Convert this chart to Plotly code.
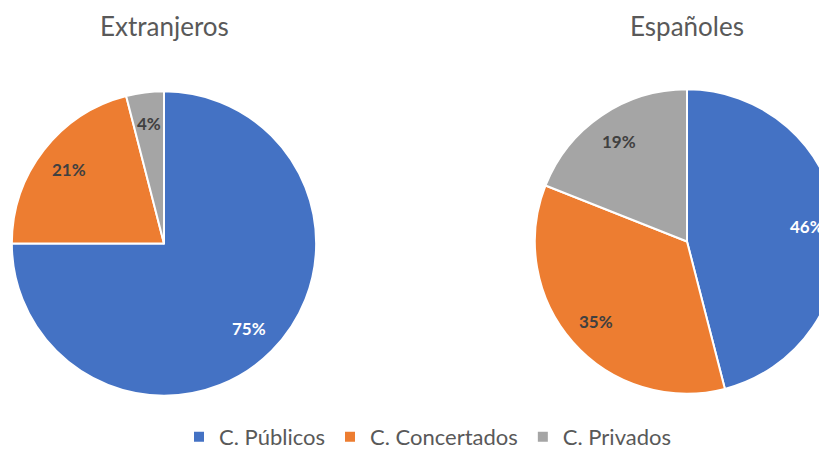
import math
import plotly.graph_objects as go

categories = ["C. Públicos", "C. Concertados", "C. Privados"]
extranjeros = [75, 21, 4]
espanoles = [46, 35, 19]
titles = ["Extranjeros", "Españoles"]

colors = ["#4472C4", "#ED7D31", "#A5A5A5"]
text_colors = ["#FFFFFF", "#404040", "#404040"]

W, H = 835, 450
OFF = 8  # page offset of the plot div

def px(x):
    return (x - OFF) / W

def py(y):
    return (H - (y - OFF)) / H

# pie geometry in screen pixels: center x, center y, visible radius
pies = [(164, 244, 151), (687, 242, 151)]
SHRINK = 1.5

fig = go.Figure()
for vals, (cx, cy, r) in zip([extranjeros, espanoles], pies):
    half = r + SHRINK
    fig.add_trace(go.Pie(
        labels=categories, values=vals, sort=False, direction="clockwise",
        rotation=0,
        domain=dict(x=[max(0.0, px(cx - half)), min(1.0, px(cx + half))],
                    y=[py(cy + half), py(cy - half)]),
        marker=dict(colors=colors, line=dict(color="white", width=2)),
        textinfo="none", hoverinfo="label+value", showlegend=True,
    ))
    total = sum(vals)
    cum = 0
    for v, tc in zip(vals, text_colors):
        mid = (cum + v / 2) / total * 2 * math.pi
        cum += v
        lx = cx + 0.80 * r * math.sin(mid)
        ly = cy - 0.80 * r * math.cos(mid)
        fig.add_annotation(text=f"{v}%", x=px(lx), y=py(ly), xref="paper", yref="paper",
                           xanchor="center", yanchor="middle", showarrow=False,
                           font=dict(family="Lato", size=17, color=tc, weight="bold"))

for t, xc in zip(titles, [164, 687]):
    fig.add_annotation(text=t, x=px(xc), y=1.0, xref="paper", yref="paper",
                       xanchor="center", yanchor="top", showarrow=False,
                       font=dict(family="Lato", size=26, color="#595959"))

fig.update_layout(
    width=W, height=H, margin=dict(l=0, r=0, t=0, b=0),
    paper_bgcolor="white", plot_bgcolor="white",
    legend=dict(orientation="h", x=px(428), xanchor="center", y=py(438), yanchor="middle",
                font=dict(family="Lato", size=22, color="#595959"),
                itemsizing="constant", traceorder="normal", itemwidth=30),
)

fig.write_html("out.html")
